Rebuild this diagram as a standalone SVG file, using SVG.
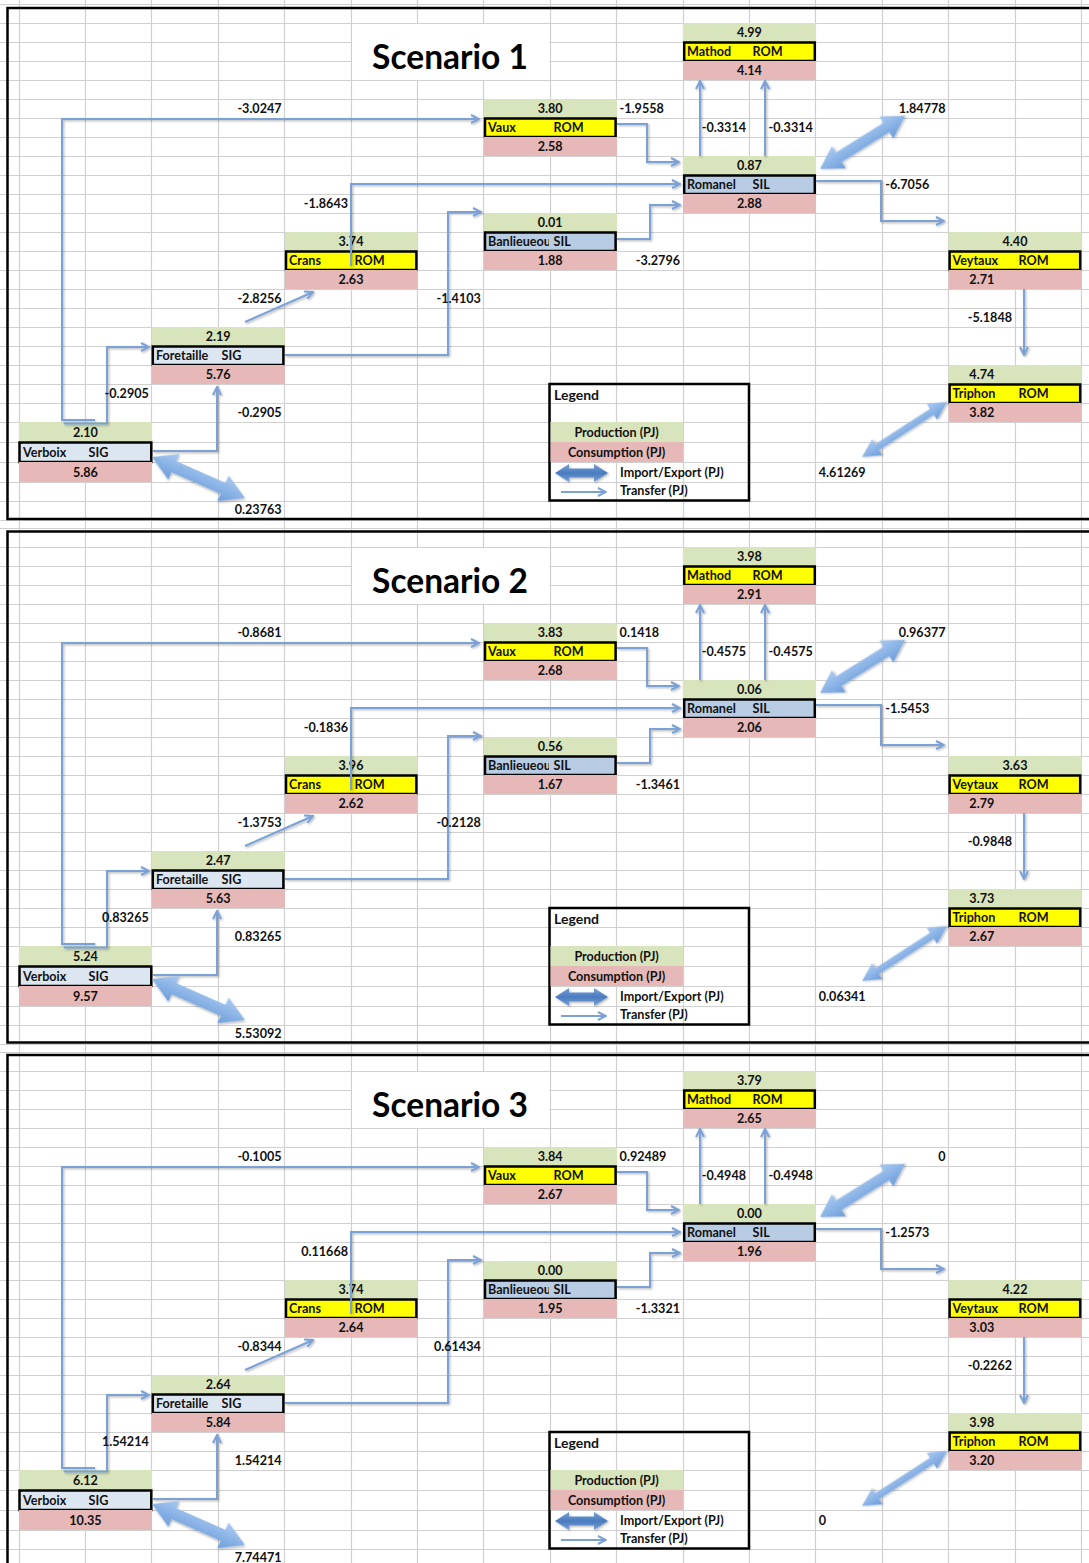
<svg xmlns="http://www.w3.org/2000/svg" width="1089" height="1563" viewBox="0 0 1089 1563">
<style>
.gl{stroke:#d0d0d0;stroke-width:1.2;fill:none}
.pb{fill:none;stroke:#000;stroke-width:2.5}
.g{fill:#d8e4bc}
.p{fill:#e6b8b7}
.y{fill:#ffff00;stroke:#000;stroke-width:2.5}
.b{fill:#b8cce4;stroke:#000;stroke-width:2.5}
.lb{fill:#dce6f1;stroke:#000;stroke-width:2.5}
text{font-family:Lato,"Open Sans","Liberation Sans",sans-serif;font-weight:700;font-size:12.6px;fill:#111}
.c{text-anchor:middle}
.r{text-anchor:end}
.ttl{font-size:33.5px;text-anchor:middle;fill:#000}
.lg{font-size:14px}
.tl{fill:none;stroke:#7ba1d6;stroke-width:2;marker-end:url(#ah)}
.ie{fill:url(#ieg)}
.ie2{fill:url(#ieg2)}
.sh{filter:url(#sh)}
</style>
<defs>
<marker id="ah" viewBox="0 0 10 10" refX="9" refY="5" markerWidth="10" markerHeight="10" markerUnits="userSpaceOnUse" orient="auto"><path d="M1 1L9 5L1 9" fill="none" stroke="#7ba1d6" stroke-width="2"/></marker>
<linearGradient id="ieg" x1="0" y1="0" x2="0" y2="1"><stop offset="0" stop-color="#a9caf1"/><stop offset="1" stop-color="#6e9edb"/></linearGradient>
<linearGradient id="ieg2" x1="0" y1="0" x2="0" y2="1"><stop offset="0" stop-color="#7aa0d4"/><stop offset="0.5" stop-color="#4a7cc0"/><stop offset="1" stop-color="#7aa0d4"/></linearGradient>
<filter id="sh" x="-10%" y="-10%" width="130%" height="130%"><feDropShadow dx="1.2" dy="1.2" stdDeviation="0.9" flood-color="#000" flood-opacity="0.3"/></filter>
<clipPath id="clipB"><rect x="484" y="0" width="65" height="600"/></clipPath>
<path id="rows" d="M0 4.5H1089M0 23.5H1089M0 42.5H1089M0 61.5H1089M0 80.5H1089M0 99.5H1089M0 118.5H1089M0 137.5H1089M0 156.5H1089M0 175.5H1089M0 194.5H1089M0 213.5H1089M0 232.5H1089M0 251.5H1089M0 270.5H1089M0 289.5H1089M0 308.5H1089M0 327.5H1089M0 346.5H1089M0 365.5H1089M0 384.5H1089M0 403.5H1089M0 422.5H1089M0 442.5H1089M0 462.5H1089M0 482.5H1089M0 501.5H1089M0 520.5H1089"/>
</defs>
<rect width="1089" height="1563" fill="#fff"/>
<g id="grid" class="gl">
<use href="#rows"/>
<use href="#rows" transform="translate(0 524)"/>
<use href="#rows" transform="translate(0 1048)"/>
<path d="M19.5 0V1563M85.5 0V1563M151.5 0V1563M218.5 0V1563M284.5 0V1563M351.5 0V1563M417.5 0V1563M483.5 0V1563M550.5 0V1563M616.5 0V1563M683.5 0V1563M749.5 0V1563M815.5 0V1563M882.5 0V1563M948.5 0V1563M1015.5 0V1563M1081.5 0V1563"/>
</g>

<!-- ================= PANEL 1 ================= -->
<g id="panel1">
<rect class="pb" x="7.5" y="8" width="1095" height="511"/>
<rect x="352" y="24" width="197.5" height="56" fill="#fff"/>
<text class="ttl" x="450" y="69">Scenario 1</text>
<g id="p1-mathod"><rect class="g" x="683" y="23" width="133" height="19"/><rect class="y" x="684.2" y="42.5" width="130.6" height="18.5"/><rect class="p" x="683" y="61" width="133" height="19"/><text class="c" x="749.4" y="36.5">4.99</text><text x="687" y="55.5">Mathod</text><text x="752.5" y="55.5">ROM</text><text class="c" x="749.4" y="74.5">4.14</text></g>
<g id="p1-vaux"><rect class="g" x="484" y="99" width="133" height="19"/><rect class="y" x="485" y="118.5" width="130.6" height="18.5"/><rect class="p" x="484" y="137" width="133" height="19"/><text class="c" x="550.2" y="112.5">3.80</text><text x="488" y="131.5">Vaux</text><text x="553.5" y="131.5">ROM</text><text class="c" x="550.2" y="150.5">2.58</text></g>
<g id="p1-romanel"><rect class="g" x="683" y="156" width="133" height="19"/><rect class="b" x="684.2" y="175.5" width="130.6" height="18.5"/><rect class="p" x="683" y="194" width="133" height="19"/><text class="c" x="749.4" y="169.5">0.87</text><text x="687" y="188.5">Romanel</text><text x="752.5" y="188.5">SIL</text><text class="c" x="749.4" y="207.5">2.88</text></g>
<g id="p1-banlieue"><rect class="g" x="484" y="213" width="133" height="19"/><rect class="b" x="485" y="232.5" width="130.6" height="18.5"/><rect class="p" x="484" y="251" width="133" height="19"/><text class="c" x="550.2" y="226.5">0.01</text><text x="488" y="245.5" clip-path="url(#clipB)">Banlieueou</text><text x="553.5" y="245.5">SIL</text><text class="c" x="550.2" y="264.5">1.88</text></g>
<g id="p1-crans"><rect class="g" x="285" y="232" width="132.5" height="19"/><rect class="y" x="286" y="251.5" width="130.4" height="18.5"/><rect class="p" x="285" y="270" width="132.5" height="19"/><text class="c" x="351" y="245.5">3.74</text><text x="289" y="264.5">Crans</text><text x="354.5" y="264.5">ROM</text><text class="c" x="351" y="283.5">2.63</text></g>
<g id="p1-veytaux"><rect class="g" x="948.6" y="232" width="133" height="19"/><rect class="y" x="949.6" y="251.5" width="130.6" height="18.5"/><rect class="p" x="948.6" y="270" width="133" height="19"/><text class="c" x="1015" y="245.5">4.40</text><text x="952.5" y="264.5">Veytaux</text><text x="1018.5" y="264.5">ROM</text><text class="c" x="981.8" y="283.5">2.71</text></g>
<g id="p1-foretaille"><rect class="g" x="151.8" y="327" width="133" height="19"/><rect class="lb" x="152.8" y="346.5" width="130.6" height="18.5"/><rect class="p" x="151.8" y="365" width="133" height="19"/><text class="c" x="218.2" y="340.5">2.19</text><text x="156" y="359.5">Foretaille</text><text x="221.5" y="359.5">SIG</text><text class="c" x="218.2" y="378.5">5.76</text></g>
<g id="p1-triphon"><rect class="g" x="948.6" y="365" width="133" height="19"/><rect class="y" x="949.6" y="384.5" width="130.6" height="18.5"/><rect class="p" x="948.6" y="403" width="133" height="19"/><text class="c" x="981.8" y="378.5">4.74</text><text x="952.5" y="397.5">Triphon</text><text x="1018.5" y="397.5">ROM</text><text class="c" x="981.8" y="416.5">3.82</text></g>
<g id="p1-verboix"><rect class="g" x="19" y="422" width="133" height="20"/><rect class="lb" x="19.5" y="442.5" width="131.8" height="19.5"/><rect class="p" x="19" y="462" width="133" height="20"/><text class="c" x="85.4" y="436.5">2.10</text><text x="23" y="456.5">Verboix</text><text x="88.5" y="456.5">SIG</text><text class="c" x="85.4" y="476.5">5.86</text></g>
<g id="p1-legend"><rect x="549.5" y="384" width="199.5" height="116.5" fill="none" stroke="#000" stroke-width="2.5"/><text class="lg" x="554" y="400">Legend</text><rect class="g" x="550.5" y="422" width="132.5" height="20"/><text class="c" x="616.6" y="436.5">Production (PJ)</text><rect class="p" x="550.5" y="442" width="132.5" height="20"/><text class="c" x="616.6" y="456.5">Consumption (PJ)</text><path class="ie2 sh" d="M0 0L14 -9L14 -4.5L39 -4.5L39 -9L53 0L39 9L39 4.5L14 4.5L14 9Z" transform="translate(555 473)"/><text x="620" y="477">Import/Export (PJ)</text><path class="tl" d="M561 492H606"/><text x="620" y="495">Transfer (PJ)</text></g>
<g id="p1-connectors">
<g class="sh">
<path class="tl" d="M95 420H62V119H479"/>
<path class="tl" d="M64 423.5H107V347H149"/>
<path class="tl" d="M153 451H217V387"/>
<path class="tl" d="M245 322L313 292"/>
<path class="tl" d="M285 355H448V212H481"/>
<path class="tl" d="M351 266V184H680"/>
<path class="tl" d="M617 124H647V162H679"/>
<path class="tl" d="M617 239H650V205H680"/>
<path class="tl" d="M700 156V81"/>
<path class="tl" d="M765 156V81"/>
<path class="tl" d="M816 181H881V221H944"/>
<path class="tl" d="M1024 289V355"/>
</g>
<path class="ie sh" d="M0 0L22 -13L22 -5.5L78.2 -5.5L78.2 -13L100.2 0L78.2 13L78.2 5.5L22 5.5L22 13Z" transform="translate(820 169) rotate(-32)"/>
<path class="ie sh" d="M0 0L24 -14L24 -6L77.6 -6L77.6 -14L101.6 0L77.6 14L77.6 6L24 6L24 14Z" transform="translate(152 457) rotate(23.8)"/>
<path class="ie sh" d="M0 0L18 -9.5L18 -3.5L83.2 -3.5L83.2 -9.5L101.2 0L83.2 9.5L83.2 3.5L18 3.5L18 9.5Z" transform="translate(862 457) rotate(-32.9)"/>
</g>
<g id="p1-flow-labels">
<text class="r" x="281.6" y="112.5">-3.0247</text>
<text x="619.6" y="112.5">-1.9558</text>
<text class="r" x="746" y="131.5">-0.3314</text>
<text class="r" x="812.8" y="131.5">-0.3314</text>
<text class="r" x="945.6" y="112.5">1.84778</text>
<text x="885.2" y="188.5">-6.7056</text>
<text class="r" x="348" y="207.5">-1.8643</text>
<text class="r" x="680" y="264.5">-3.2796</text>
<text class="r" x="281.6" y="302.5">-2.8256</text>
<text class="r" x="480.8" y="302.5">-1.4103</text>
<text class="r" x="1012" y="321.5">-5.1848</text>
<text class="r" x="148.8" y="397.5">-0.2905</text>
<text class="r" x="281.6" y="416.5">-0.2905</text>
<text x="818.8" y="476.5">4.61269</text>
<text class="r" x="281.6" y="513.5">0.23763</text>
</g>
</g>

<!-- ================= PANEL 2 ================= -->
<g id="panel2" transform="translate(0 524)">
<rect class="pb" x="7.5" y="7.5" width="1095" height="511"/>
<rect x="352" y="24" width="197.5" height="56" fill="#fff"/>
<text class="ttl" x="450" y="69">Scenario 2</text>
<g id="p2-mathod"><rect class="g" x="683" y="23" width="133" height="19"/><rect class="y" x="684.2" y="42.5" width="130.6" height="18.5"/><rect class="p" x="683" y="61" width="133" height="19"/><text class="c" x="749.4" y="36.5">3.98</text><text x="687" y="55.5">Mathod</text><text x="752.5" y="55.5">ROM</text><text class="c" x="749.4" y="74.5">2.91</text></g>
<g id="p2-vaux"><rect class="g" x="484" y="99" width="133" height="19"/><rect class="y" x="485" y="118.5" width="130.6" height="18.5"/><rect class="p" x="484" y="137" width="133" height="19"/><text class="c" x="550.2" y="112.5">3.83</text><text x="488" y="131.5">Vaux</text><text x="553.5" y="131.5">ROM</text><text class="c" x="550.2" y="150.5">2.68</text></g>
<g id="p2-romanel"><rect class="g" x="683" y="156" width="133" height="19"/><rect class="b" x="684.2" y="175.5" width="130.6" height="18.5"/><rect class="p" x="683" y="194" width="133" height="19"/><text class="c" x="749.4" y="169.5">0.06</text><text x="687" y="188.5">Romanel</text><text x="752.5" y="188.5">SIL</text><text class="c" x="749.4" y="207.5">2.06</text></g>
<g id="p2-banlieue"><rect class="g" x="484" y="213" width="133" height="19"/><rect class="b" x="485" y="232.5" width="130.6" height="18.5"/><rect class="p" x="484" y="251" width="133" height="19"/><text class="c" x="550.2" y="226.5">0.56</text><text x="488" y="245.5" clip-path="url(#clipB)">Banlieueou</text><text x="553.5" y="245.5">SIL</text><text class="c" x="550.2" y="264.5">1.67</text></g>
<g id="p2-crans"><rect class="g" x="285" y="232" width="132.5" height="19"/><rect class="y" x="286" y="251.5" width="130.4" height="18.5"/><rect class="p" x="285" y="270" width="132.5" height="19"/><text class="c" x="351" y="245.5">3.96</text><text x="289" y="264.5">Crans</text><text x="354.5" y="264.5">ROM</text><text class="c" x="351" y="283.5">2.62</text></g>
<g id="p2-veytaux"><rect class="g" x="948.6" y="232" width="133" height="19"/><rect class="y" x="949.6" y="251.5" width="130.6" height="18.5"/><rect class="p" x="948.6" y="270" width="133" height="19"/><text class="c" x="1015" y="245.5">3.63</text><text x="952.5" y="264.5">Veytaux</text><text x="1018.5" y="264.5">ROM</text><text class="c" x="981.8" y="283.5">2.79</text></g>
<g id="p2-foretaille"><rect class="g" x="151.8" y="327" width="133" height="19"/><rect class="lb" x="152.8" y="346.5" width="130.6" height="18.5"/><rect class="p" x="151.8" y="365" width="133" height="19"/><text class="c" x="218.2" y="340.5">2.47</text><text x="156" y="359.5">Foretaille</text><text x="221.5" y="359.5">SIG</text><text class="c" x="218.2" y="378.5">5.63</text></g>
<g id="p2-triphon"><rect class="g" x="948.6" y="365" width="133" height="19"/><rect class="y" x="949.6" y="384.5" width="130.6" height="18.5"/><rect class="p" x="948.6" y="403" width="133" height="19"/><text class="c" x="981.8" y="378.5">3.73</text><text x="952.5" y="397.5">Triphon</text><text x="1018.5" y="397.5">ROM</text><text class="c" x="981.8" y="416.5">2.67</text></g>
<g id="p2-verboix"><rect class="g" x="19" y="422" width="133" height="20"/><rect class="lb" x="19.5" y="442.5" width="131.8" height="19.5"/><rect class="p" x="19" y="462" width="133" height="20"/><text class="c" x="85.4" y="436.5">5.24</text><text x="23" y="456.5">Verboix</text><text x="88.5" y="456.5">SIG</text><text class="c" x="85.4" y="476.5">9.57</text></g>
<g id="p2-legend"><rect x="549.5" y="384" width="199.5" height="116.5" fill="none" stroke="#000" stroke-width="2.5"/><text class="lg" x="554" y="400">Legend</text><rect class="g" x="550.5" y="422" width="132.5" height="20"/><text class="c" x="616.6" y="436.5">Production (PJ)</text><rect class="p" x="550.5" y="442" width="132.5" height="20"/><text class="c" x="616.6" y="456.5">Consumption (PJ)</text><path class="ie2 sh" d="M0 0L14 -9L14 -4.5L39 -4.5L39 -9L53 0L39 9L39 4.5L14 4.5L14 9Z" transform="translate(555 473)"/><text x="620" y="477">Import/Export (PJ)</text><path class="tl" d="M561 492H606"/><text x="620" y="495">Transfer (PJ)</text></g>
<g id="p2-connectors">
<g class="sh">
<path class="tl" d="M95 420H62V119H479"/>
<path class="tl" d="M64 423.5H107V347H149"/>
<path class="tl" d="M153 451H217V387"/>
<path class="tl" d="M245 322L313 292"/>
<path class="tl" d="M285 355H448V212H481"/>
<path class="tl" d="M351 266V184H680"/>
<path class="tl" d="M617 124H647V162H679"/>
<path class="tl" d="M617 239H650V205H680"/>
<path class="tl" d="M700 156V81"/>
<path class="tl" d="M765 156V81"/>
<path class="tl" d="M816 181H881V221H944"/>
<path class="tl" d="M1024 289V355"/>
</g>
<path class="ie sh" d="M0 0L22 -13L22 -5.5L78.2 -5.5L78.2 -13L100.2 0L78.2 13L78.2 5.5L22 5.5L22 13Z" transform="translate(820 169) rotate(-32)"/>
<path class="ie sh" d="M0 0L24 -14L24 -6L77.6 -6L77.6 -14L101.6 0L77.6 14L77.6 6L24 6L24 14Z" transform="translate(152 455) rotate(23.8)"/>
<path class="ie sh" d="M0 0L18 -9.5L18 -3.5L83.2 -3.5L83.2 -9.5L101.2 0L83.2 9.5L83.2 3.5L18 3.5L18 9.5Z" transform="translate(862 457) rotate(-32.9)"/>
</g>
<g id="p2-flow-labels">
<text class="r" x="281.6" y="112.5">-0.8681</text>
<text x="619.6" y="112.5">0.1418</text>
<text class="r" x="746" y="131.5">-0.4575</text>
<text class="r" x="812.8" y="131.5">-0.4575</text>
<text class="r" x="945.6" y="112.5">0.96377</text>
<text x="885.2" y="188.5">-1.5453</text>
<text class="r" x="348" y="207.5">-0.1836</text>
<text class="r" x="680" y="264.5">-1.3461</text>
<text class="r" x="281.6" y="302.5">-1.3753</text>
<text class="r" x="480.8" y="302.5">-0.2128</text>
<text class="r" x="1012" y="321.5">-0.9848</text>
<text class="r" x="148.8" y="397.5">0.83265</text>
<text class="r" x="281.6" y="416.5">0.83265</text>
<text x="818.8" y="476.5">0.06341</text>
<text class="r" x="281.6" y="513.5">5.53092</text>
</g>
</g>

<!-- ================= PANEL 3 ================= -->
<g id="panel3" transform="translate(0 1048)">
<rect class="pb" x="7.5" y="7" width="1095" height="520"/>
<rect x="352" y="24" width="197.5" height="56" fill="#fff"/>
<text class="ttl" x="450" y="69">Scenario 3</text>
<g id="p3-mathod"><rect class="g" x="683" y="23" width="133" height="19"/><rect class="y" x="684.2" y="42.5" width="130.6" height="18.5"/><rect class="p" x="683" y="61" width="133" height="19"/><text class="c" x="749.4" y="36.5">3.79</text><text x="687" y="55.5">Mathod</text><text x="752.5" y="55.5">ROM</text><text class="c" x="749.4" y="74.5">2.65</text></g>
<g id="p3-vaux"><rect class="g" x="484" y="99" width="133" height="19"/><rect class="y" x="485" y="118.5" width="130.6" height="18.5"/><rect class="p" x="484" y="137" width="133" height="19"/><text class="c" x="550.2" y="112.5">3.84</text><text x="488" y="131.5">Vaux</text><text x="553.5" y="131.5">ROM</text><text class="c" x="550.2" y="150.5">2.67</text></g>
<g id="p3-romanel"><rect class="g" x="683" y="156" width="133" height="19"/><rect class="b" x="684.2" y="175.5" width="130.6" height="18.5"/><rect class="p" x="683" y="194" width="133" height="19"/><text class="c" x="749.4" y="169.5">0.00</text><text x="687" y="188.5">Romanel</text><text x="752.5" y="188.5">SIL</text><text class="c" x="749.4" y="207.5">1.96</text></g>
<g id="p3-banlieue"><rect class="g" x="484" y="213" width="133" height="19"/><rect class="b" x="485" y="232.5" width="130.6" height="18.5"/><rect class="p" x="484" y="251" width="133" height="19"/><text class="c" x="550.2" y="226.5">0.00</text><text x="488" y="245.5" clip-path="url(#clipB)">Banlieueou</text><text x="553.5" y="245.5">SIL</text><text class="c" x="550.2" y="264.5">1.95</text></g>
<g id="p3-crans"><rect class="g" x="285" y="232" width="132.5" height="19"/><rect class="y" x="286" y="251.5" width="130.4" height="18.5"/><rect class="p" x="285" y="270" width="132.5" height="19"/><text class="c" x="351" y="245.5">3.74</text><text x="289" y="264.5">Crans</text><text x="354.5" y="264.5">ROM</text><text class="c" x="351" y="283.5">2.64</text></g>
<g id="p3-veytaux"><rect class="g" x="948.6" y="232" width="133" height="19"/><rect class="y" x="949.6" y="251.5" width="130.6" height="18.5"/><rect class="p" x="948.6" y="270" width="133" height="19"/><text class="c" x="1015" y="245.5">4.22</text><text x="952.5" y="264.5">Veytaux</text><text x="1018.5" y="264.5">ROM</text><text class="c" x="981.8" y="283.5">3.03</text></g>
<g id="p3-foretaille"><rect class="g" x="151.8" y="327" width="133" height="19"/><rect class="lb" x="152.8" y="346.5" width="130.6" height="18.5"/><rect class="p" x="151.8" y="365" width="133" height="19"/><text class="c" x="218.2" y="340.5">2.64</text><text x="156" y="359.5">Foretaille</text><text x="221.5" y="359.5">SIG</text><text class="c" x="218.2" y="378.5">5.84</text></g>
<g id="p3-triphon"><rect class="g" x="948.6" y="365" width="133" height="19"/><rect class="y" x="949.6" y="384.5" width="130.6" height="18.5"/><rect class="p" x="948.6" y="403" width="133" height="19"/><text class="c" x="981.8" y="378.5">3.98</text><text x="952.5" y="397.5">Triphon</text><text x="1018.5" y="397.5">ROM</text><text class="c" x="981.8" y="416.5">3.20</text></g>
<g id="p3-verboix"><rect class="g" x="19" y="422" width="133" height="20"/><rect class="lb" x="19.5" y="442.5" width="131.8" height="19.5"/><rect class="p" x="19" y="462" width="133" height="20"/><text class="c" x="85.4" y="436.5">6.12</text><text x="23" y="456.5">Verboix</text><text x="88.5" y="456.5">SIG</text><text class="c" x="85.4" y="476.5">10.35</text></g>
<g id="p3-legend"><rect x="549.5" y="384" width="199.5" height="116.5" fill="none" stroke="#000" stroke-width="2.5"/><text class="lg" x="554" y="400">Legend</text><rect class="g" x="550.5" y="422" width="132.5" height="20"/><text class="c" x="616.6" y="436.5">Production (PJ)</text><rect class="p" x="550.5" y="442" width="132.5" height="20"/><text class="c" x="616.6" y="456.5">Consumption (PJ)</text><path class="ie2 sh" d="M0 0L14 -9L14 -4.5L39 -4.5L39 -9L53 0L39 9L39 4.5L14 4.5L14 9Z" transform="translate(555 473)"/><text x="620" y="477">Import/Export (PJ)</text><path class="tl" d="M561 492H606"/><text x="620" y="495">Transfer (PJ)</text></g>
<g id="p3-connectors">
<g class="sh">
<path class="tl" d="M95 420H62V119H479"/>
<path class="tl" d="M64 423.5H107V347H149"/>
<path class="tl" d="M153 451H217V387"/>
<path class="tl" d="M245 322L313 292"/>
<path class="tl" d="M285 355H448V212H481"/>
<path class="tl" d="M351 266V184H680"/>
<path class="tl" d="M617 124H647V162H679"/>
<path class="tl" d="M617 239H650V205H680"/>
<path class="tl" d="M700 156V81"/>
<path class="tl" d="M765 156V81"/>
<path class="tl" d="M816 181H881V221H944"/>
<path class="tl" d="M1024 289V355"/>
</g>
<path class="ie sh" d="M0 0L22 -13L22 -5.5L78.2 -5.5L78.2 -13L100.2 0L78.2 13L78.2 5.5L22 5.5L22 13Z" transform="translate(820 169) rotate(-32)"/>
<path class="ie sh" d="M0 0L24 -14L24 -6L77.6 -6L77.6 -14L101.6 0L77.6 14L77.6 6L24 6L24 14Z" transform="translate(152 456) rotate(23.8)"/>
<path class="ie sh" d="M0 0L18 -9.5L18 -3.5L83.2 -3.5L83.2 -9.5L101.2 0L83.2 9.5L83.2 3.5L18 3.5L18 9.5Z" transform="translate(862 458) rotate(-32.9)"/>
</g>
<g id="p3-flow-labels">
<text class="r" x="281.6" y="112.5">-0.1005</text>
<text x="619.6" y="112.5">0.92489</text>
<text class="r" x="746" y="131.5">-0.4948</text>
<text class="r" x="812.8" y="131.5">-0.4948</text>
<text class="r" x="945.6" y="112.5">0</text>
<text x="885.2" y="188.5">-1.2573</text>
<text class="r" x="348" y="207.5">0.11668</text>
<text class="r" x="680" y="264.5">-1.3321</text>
<text class="r" x="281.6" y="302.5">-0.8344</text>
<text class="r" x="480.8" y="302.5">0.61434</text>
<text class="r" x="1012" y="321.5">-0.2262</text>
<text class="r" x="148.8" y="397.5">1.54214</text>
<text class="r" x="281.6" y="416.5">1.54214</text>
<text x="818.8" y="476.5">0</text>
<text class="r" x="281.6" y="513.5">7.74471</text>
</g>
</g>
</svg>
